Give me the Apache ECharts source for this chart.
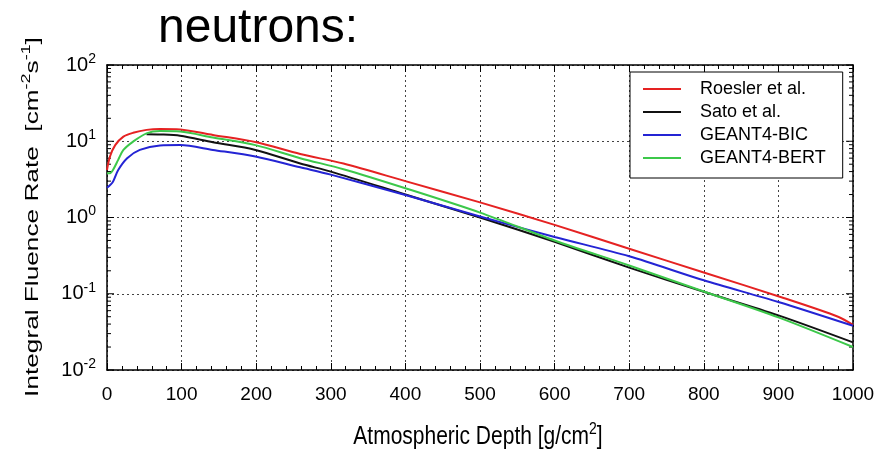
<!DOCTYPE html>
<html>
<head>
<meta charset="utf-8">
<script src="https://cdn.jsdelivr.net/npm/echarts@6/dist/echarts.min.js"></script>
<style>
html,body{margin:0;padding:0;background:#fff;}
#chart{width:884px;height:455px;}
</style>
</head>
<body>
<div id="chart"></div>
<script>
// ---- data ----
const seriesNames = ['Roesler et al.', 'Sato et al.', 'GEANT4-BIC', 'GEANT4-BERT'];

const roeslerX = [0, 4, 11, 22, 35, 53, 71, 98, 142, 200, 259, 317, 400, 500, 600, 700, 800, 907, 980, 1000];
const roeslerY = [4.2, 6.3, 8.9, 11.5, 12.9, 14.1, 14.5, 14.3, 12.1, 9.7, 6.8, 5.1, 3.0, 1.58, 0.80, 0.39, 0.19, 0.088, 0.050, 0.039];

const satoX = [53, 71, 98, 142, 199, 259, 300, 400, 500, 600, 700, 800, 900, 1000];
const satoY = [12.4, 12.3, 11.8, 9.7, 7.7, 5.1, 4.0, 2.0, 1.0, 0.48, 0.22, 0.106, 0.052, 0.023];

const bicX = [0, 8, 15, 27, 44, 71, 98, 142, 199, 259, 300, 400, 500, 600, 700, 800, 900, 1000];
const bicY = [2.45, 2.95, 4.2, 6.0, 7.7, 8.8, 8.9, 7.7, 6.3, 4.55, 3.65, 1.97, 1.03, 0.555, 0.31, 0.15, 0.078, 0.038];

const bertX = [0, 4, 8, 15, 22, 35, 53, 71, 98, 142, 199, 259, 317, 400, 500, 600, 700, 800, 900, 1000];
const bertY = [3.8, 3.8, 4.2, 5.7, 7.7, 9.9, 12.7, 13.6, 13.4, 11.2, 8.9, 6.0, 4.3, 2.42, 1.16, 0.50, 0.235, 0.107, 0.049, 0.020];

const xTicks = [0, 100, 200, 300, 400, 500, 600, 700, 800, 900, 1000];
const yDecades = [-2, -1, 0, 1, 2];

const titleText = 'neutrons:';
const xAxisTitle = 'Atmospheric Depth [g/cm{s|2}]';
const yAxisTitle = 'Integral Fluence Rate  [cm{s|-2}s{s|-1}]';

const colors = ['#e52222', '#111111', '#2424d4', '#3cc84a'];

// ---- helpers ----
function pairs(xs, ys) { return xs.map((x, i) => [x, ys[i]]); }

// log tick marks (2..9 in each decade + decades) for inside ticks left & right
const logTickData = [];
for (let d = yDecades[0]; d < yDecades[yDecades.length - 1]; d++) {
  for (let k = 1; k <= 9; k++) {
    logTickData.push([0, k * Math.pow(10, d), k === 1 ? 1 : 0]);
  }
}
logTickData.push([0, Math.pow(10, yDecades[yDecades.length - 1]), 1]);

const chart = echarts.init(document.getElementById('chart'), null, {renderer: 'canvas'});
const FONT = 'Liberation Sans, Arial, sans-serif';

const lineSeries = [
  pairs(roeslerX, roeslerY),
  pairs(satoX, satoY),
  pairs(bicX, bicY),
  pairs(bertX, bertY)
].map((d, i) => ({
  name: seriesNames[i],
  type: 'line',
  data: d,
  xAxisIndex: 0,
  yAxisIndex: 0,
  symbol: 'none',
  smooth: 0.3,
  legendIcon: 'rect',
  lineStyle: {color: colors[i], width: 2},
  itemStyle: {color: colors[i]},
  z: 3 + i
}));

const option = {
  animation: false,
  backgroundColor: '#fff',
  graphic: [{
    type: 'text',
    left: 158,
    top: 5,
    style: {text: titleText, font: '48px ' + FONT, fill: '#000'}
  }, {
    type: 'text',
    x: 33,
    y: 217,
    rotation: Math.PI / 2,
    scaleX: 1.38,
    scaleY: 1,
    style: {
      text: yAxisTitle,
      fontFamily: FONT, fontSize: 19, fill: '#000', lineHeight: 26,
      align: 'center', verticalAlign: 'middle',
      rich: {s: {fontFamily: FONT, fontSize: 13, verticalAlign: 'top', lineHeight: 13, fill: '#000'}}
    }
  }, {
    type: 'text',
    x: 478,
    y: 437,
    scaleX: 1,
    scaleY: 1.22,
    style: {
      text: xAxisTitle,
      fontFamily: FONT, fontSize: 21, fill: '#000', lineHeight: 26,
      align: 'center', verticalAlign: 'middle',
      rich: {s: {fontFamily: FONT, fontSize: 14, verticalAlign: 'top', lineHeight: 13, fill: '#000'}}
    }
  }],
  legend: {
    data: seriesNames,
    orient: 'vertical',
    left: 630,
    top: 72,
    padding: [8, 17, 11, 13],
    itemGap: 5,
    itemWidth: 38,
    itemHeight: 2,
    icon: 'rect',
    backgroundColor: '#fff',
    borderColor: '#000',
    borderWidth: 1,
    borderRadius: 0,
    textStyle: {fontFamily: FONT, fontSize: 18, color: '#000', lineHeight: 18, padding: [0, 0, 0, 14]},
    selectedMode: false
  },
  grid: {left: 107, right: 31, top: 65, bottom: 85, containLabel: false},
  xAxis: [{
    type: 'value',
    min: 0, max: 1000, interval: 100,
    position: 'bottom',
    axisLine: {show: true, onZero: false, lineStyle: {color: '#000', width: 1.5}},
    axisTick: {show: true, inside: true, length: 7, lineStyle: {color: '#000', width: 1}},
    minorTick: {show: true, splitNumber: 5, length: 4, lineStyle: {color: '#000', width: 1}},
    axisLabel: {
      show: true, margin: 14, fontFamily: FONT, fontSize: 19, lineHeight: 22, color: '#000',
      customValues: xTicks,
      formatter: v => String(v)
    },
    splitLine: {show: true, lineStyle: {color: '#444', width: 1, type: [2, 3]}}
  }, {
    type: 'value',
    min: 0, max: 1000, interval: 100,
    position: 'top',
    axisLine: {show: true, onZero: false, lineStyle: {color: '#000', width: 1.5}},
    axisTick: {show: true, inside: true, length: 7, lineStyle: {color: '#000', width: 1}},
    minorTick: {show: true, splitNumber: 5, length: 4, lineStyle: {color: '#000', width: 1}},
    axisLabel: {show: false},
    splitLine: {show: false}
  }],
  yAxis: [{
    type: 'log',
    logBase: 10,
    min: 0.01, max: 100,
    position: 'left',
    axisLine: {show: true, onZero: false, lineStyle: {color: '#000', width: 1.5}},
    axisTick: {show: false},
    axisLabel: {
      show: true, margin: 11,
      formatter: function (v) {
        const e = Math.round(Math.log10(v));
        return '{b|10}{s|' + e + '}';
      },
      rich: {
        b: {fontFamily: FONT, fontSize: 20, color: '#000', lineHeight: 26},
        s: {fontFamily: FONT, fontSize: 14, color: '#000', lineHeight: 12, verticalAlign: 'top'}
      }
    },
    splitLine: {show: true, lineStyle: {color: '#444', width: 1, type: [2, 3]}}
  }, {
    type: 'log',
    logBase: 10,
    min: 0.01, max: 100,
    position: 'right',
    axisLine: {show: true, onZero: false, lineStyle: {color: '#000', width: 1.5}},
    axisTick: {show: false},
    axisLabel: {show: false},
    splitLine: {show: false}
  }],
  series: lineSeries.concat([{
    name: 'logTicks',
    type: 'custom',
    xAxisIndex: 0,
    yAxisIndex: 0,
    silent: true,
    clip: false,
    encode: {x: 0, y: 1},
    data: logTickData,
    z: 2,
    renderItem: function (params, api) {
      const v = api.value(1);
      const major = api.value(2) === 1;
      const L = api.coord([0, v]);
      const R = api.coord([1000, v]);
      const len = major ? 7 : 4;
      return {
        type: 'group',
        children: [
          {type: 'line', shape: {x1: L[0], y1: L[1], x2: L[0] + len, y2: L[1]}, style: {stroke: '#000', lineWidth: 1}},
          {type: 'line', shape: {x1: R[0] - len, y1: R[1], x2: R[0], y2: R[1]}, style: {stroke: '#000', lineWidth: 1}}
        ]
      };
    }
  }])
};

chart.setOption(option);
</script>
</body>
</html>
